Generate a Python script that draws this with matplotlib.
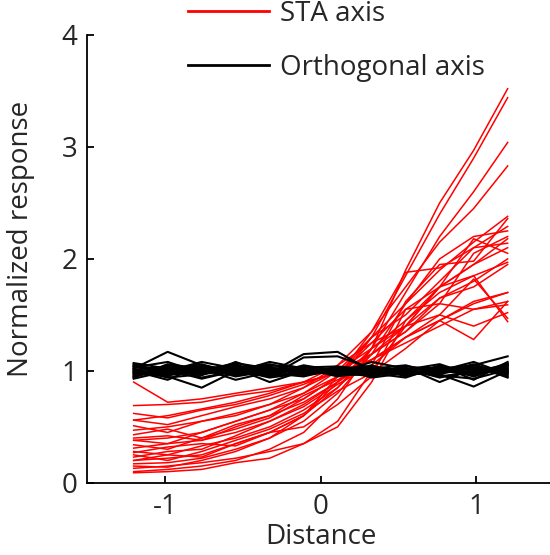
import numpy as np
import matplotlib.pyplot as plt
from matplotlib.lines import Line2D

plt.rcParams['font.family'] = ['Open Sans', 'DejaVu Sans']

# sample positions along each axis
distance = np.linspace(-1.2, 1.2, 12)

# responses along the STA axis, one row per cell
sta_resp = [
    [0.10, 0.12, 0.15, 0.20, 0.30, 0.45, 0.75, 1.20, 1.90, 2.50, 2.97, 3.52],
    [0.15, 0.14, 0.20, 0.28, 0.40, 0.60, 0.90, 1.30, 1.85, 2.40, 2.90, 3.44],
    [0.28, 0.25, 0.33, 0.40, 0.50, 0.65, 0.85, 1.20, 1.70, 2.20, 2.60, 3.04],
    [0.20, 0.22, 0.25, 0.35, 0.45, 0.60, 0.95, 1.35, 1.75, 2.15, 2.45, 2.83],
    [0.38, 0.40, 0.45, 0.55, 0.65, 0.80, 1.00, 1.30, 1.60, 1.90, 2.15, 2.38],
    [0.47, 0.50, 0.55, 0.62, 0.70, 0.85, 1.05, 1.35, 1.88, 1.92, 2.10, 2.29],
    [0.56, 0.60, 0.66, 0.72, 0.80, 0.90, 1.05, 1.25, 1.55, 1.75, 2.18, 2.05],
    [0.34, 0.30, 0.40, 0.48, 0.58, 0.75, 0.95, 1.30, 1.50, 1.80, 2.10, 2.14],
    [0.23, 0.28, 0.30, 0.42, 0.55, 0.70, 0.90, 1.20, 1.40, 1.75, 1.95, 2.18],
    [0.62, 0.58, 0.65, 0.70, 0.78, 0.88, 1.00, 1.20, 1.45, 1.70, 1.85, 1.97],
    [0.90, 0.72, 0.75, 0.80, 0.85, 0.90, 0.98, 1.10, 1.30, 1.45, 1.60, 1.70],
    [0.69, 0.70, 0.72, 0.78, 0.82, 0.90, 0.98, 1.10, 1.25, 1.40, 1.55, 1.62],
    [0.51, 0.45, 0.55, 0.60, 0.70, 0.80, 0.95, 1.15, 1.35, 1.60, 1.55, 1.59],
    [0.43, 0.48, 0.40, 0.52, 0.60, 0.72, 0.90, 1.10, 1.30, 1.50, 1.40, 1.52],
    [0.31, 0.35, 0.38, 0.45, 0.55, 0.68, 0.88, 1.05, 1.30, 1.45, 1.28, 1.62],
    [0.27, 0.32, 0.35, 0.33, 0.45, 0.60, 0.85, 1.15, 1.40, 1.50, 1.82, 1.47],
    [0.17, 0.18, 0.22, 0.30, 0.40, 0.55, 0.80, 1.15, 1.60, 2.00, 2.20, 2.25],
    [0.13, 0.15, 0.18, 0.22, 0.28, 0.35, 0.50, 0.90, 1.45, 1.75, 1.95, 2.10],
    [0.09, 0.10, 0.12, 0.18, 0.22, 0.35, 0.55, 1.00, 1.40, 1.65, 1.80, 2.00],
    [0.20, 0.25, 0.23, 0.35, 0.45, 0.50, 0.70, 0.95, 1.55, 1.60, 2.05, 2.20],
    [0.38, 0.35, 0.45, 0.55, 0.65, 0.75, 0.95, 1.25, 1.40, 1.75, 1.85, 1.44],
    [0.56, 0.52, 0.60, 0.68, 0.75, 0.85, 1.00, 1.15, 1.35, 1.65, 1.75, 1.95],
    [0.40, 0.42, 0.38, 0.50, 0.60, 0.78, 0.92, 1.05, 1.62, 1.95, 1.98, 2.36],
    [0.25, 0.20, 0.28, 0.38, 0.48, 0.62, 0.82, 0.98, 1.20, 1.45, 1.62, 1.70],
]

# responses along the orthogonal axis
orth_resp = [
    [1.02, 1.17, 1.05, 1.00, 0.98, 1.15, 1.17, 1.00, 0.98, 1.00, 1.05, 1.13],
    [0.98, 0.95, 0.85, 1.00, 0.95, 1.12, 1.13, 1.02, 1.00, 0.97, 0.86, 1.00],
    [1.05, 1.00, 1.08, 1.02, 0.90, 1.00, 0.98, 1.05, 0.95, 1.05, 0.92, 1.08],
    [0.95, 1.05, 1.00, 1.07, 1.02, 0.98, 1.00, 0.97, 1.03, 0.90, 1.02, 0.98],
    [1.00, 0.92, 1.05, 0.98, 1.04, 0.96, 1.02, 0.96, 1.00, 1.03, 0.95, 1.04],
    [1.07, 1.02, 0.96, 1.08, 0.97, 1.02, 0.95, 1.00, 0.96, 1.00, 1.08, 0.97],
    [0.93, 1.00, 1.03, 0.95, 1.00, 1.04, 0.98, 1.08, 1.02, 0.94, 1.00, 1.05],
    [1.03, 1.08, 0.98, 1.02, 1.06, 0.99, 1.03, 0.98, 0.94, 1.04, 0.98, 1.02],
    [0.97, 0.98, 1.02, 0.92, 0.99, 1.01, 1.00, 1.02, 1.05, 0.97, 1.04, 0.95],
    [1.01, 1.04, 0.94, 1.00, 1.03, 0.97, 0.99, 0.95, 1.01, 1.06, 0.96, 1.06],
    [0.99, 0.96, 1.00, 1.04, 0.96, 1.03, 1.04, 1.01, 0.98, 0.99, 1.03, 1.00],
    [1.04, 1.01, 1.06, 0.97, 1.01, 1.00, 0.97, 0.99, 1.04, 1.01, 0.99, 1.03],
    [0.96, 1.03, 0.97, 1.01, 0.94, 0.98, 1.01, 1.03, 0.97, 1.02, 1.01, 0.99],
    [1.00, 0.99, 1.01, 0.99, 1.08, 1.02, 0.96, 0.97, 0.99, 0.96, 0.93, 1.01],
    [1.06, 0.97, 0.99, 1.05, 0.98, 0.95, 1.02, 1.04, 1.00, 0.98, 1.06, 0.96],
    [0.94, 1.06, 1.02, 0.96, 1.02, 1.01, 0.99, 0.98, 1.02, 1.03, 0.97, 1.07],
    [1.02, 0.94, 0.97, 1.03, 1.00, 0.99, 1.01, 1.00, 0.97, 1.00, 1.02, 0.98],
    [0.98, 1.02, 1.04, 0.98, 0.97, 1.05, 1.00, 0.99, 1.01, 0.95, 0.99, 1.02],
    [1.04, 0.97, 1.01, 1.06, 0.95, 1.00, 1.03, 0.94, 0.98, 1.02, 1.05, 0.94],
    [0.95, 1.01, 0.93, 1.00, 1.05, 1.03, 0.97, 1.02, 0.96, 1.00, 0.97, 1.05],
]

x_ticks = [-1, 0, 1]
y_ticks = [0, 1, 2, 3, 4]
text_col = '#262626'

fig = plt.figure(figsize=(5.5, 5.55), dpi=100)
ax = fig.add_axes([0.158, 0.13, 0.85, 0.807])

for row in sta_resp:
    ax.plot(distance, row, color='#ff0000', lw=1.1)
for row in orth_resp:
    ax.plot(distance, row, color='black', lw=1.5)

ax.set_xlim(-1.5, 1.5)
ax.set_ylim(0, 4)
ax.set_xticks(x_ticks)
ax.set_yticks(y_ticks)
ax.set_xticklabels(['-1', '0', '1'])
ax.tick_params(direction='in', length=5, width=1.3, labelsize=20, pad=7,
               colors='black', labelcolor=text_col)
for side in ['top', 'right']:
    ax.spines[side].set_visible(False)
for side in ['left', 'bottom']:
    ax.spines[side].set_linewidth(1.3)

ax.set_xlabel('Distance', fontsize=20, color=text_col, labelpad=2)
ax.set_ylabel('Normalized response', fontsize=20, color=text_col)
ax.yaxis.set_label_coords(-0.11, 0.545)

handles = [Line2D([], [], color='#ff0000', lw=2),
           Line2D([], [], color='black', lw=2)]
fig.legend(handles, ['STA axis', 'Orthogonal axis'], loc='upper left',
           bbox_to_anchor=(0.297, 1.045), frameon=False, fontsize=20,
           handlelength=2.9, handletextpad=0.4, labelspacing=0.93,
           labelcolor=text_col)

fig.savefig('out.png', dpi=100)
